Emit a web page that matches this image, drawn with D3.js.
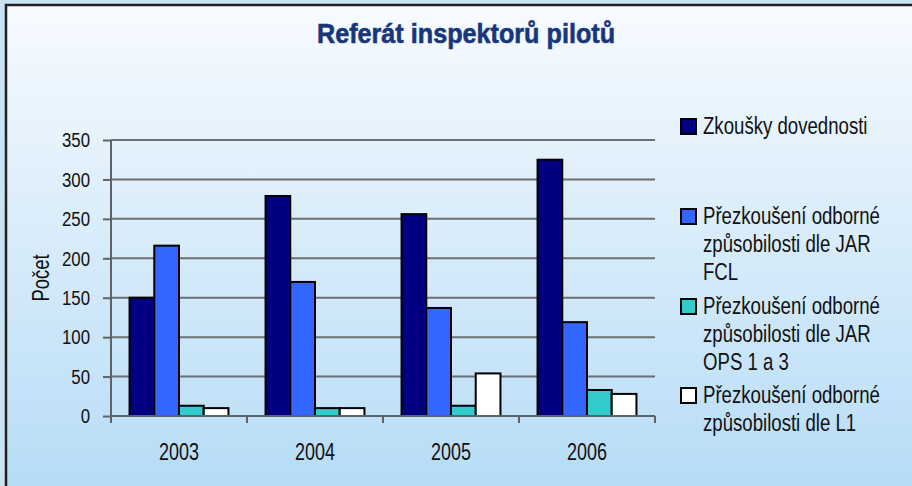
<!DOCTYPE html>
<html>
<head>
<meta charset="utf-8">
<script src="https://cdn.jsdelivr.net/npm/d3@7"></script>
<style>
  html, body { margin: 0; padding: 0; background: #c6e2f4; }
  svg { display: block; }
  text { font-family: "Liberation Sans", Arial, sans-serif; }
</style>
</head>
<body>
<svg id="chart" width="912" height="486"></svg>
<script>
const categories = ["2003", "2004", "2005", "2006"];
const seriesNames = [
  "Zkoušky dovednosti",
  "Přezkoušení odborné způsobilosti dle JAR FCL",
  "Přezkoušení odborné způsobilosti dle JAR OPS 1 a 3",
  "Přezkoušení odborné způsobilosti dle L1"
];
const legendLines = [
  ["Zkoušky dovednosti"],
  ["Přezkoušení odborné", "způsobilosti dle JAR", "FCL"],
  ["Přezkoušení odborné", "způsobilosti dle JAR", "OPS 1 a 3"],
  ["Přezkoušení odborné", "způsobilosti dle L1"]
];
const zkousky = [150, 279, 256, 325];
const jarFcl = [216, 170, 137, 119];
const jarOps = [13, 10, 13, 33];
const l1 = [10, 10, 54, 28];
const seriesValues = [zkousky, jarFcl, jarOps, l1];
const seriesColors = ["#000080", "#3366ff", "#33cccc", "#ffffff"];
const yTicks = [0, 50, 100, 150, 200, 250, 300, 350];
const titleText = "Referát inspektorů pilotů";
const yTitle = "Počet";

const svg = d3.select("#chart");

// background gradient
const defs = svg.append("defs");
const grad = defs.append("linearGradient").attr("id", "bg")
  .attr("x1", 0).attr("y1", 0).attr("x2", 0).attr("y2", 1);
grad.append("stop").attr("offset", "0%").attr("stop-color", "#f7fbff");
grad.append("stop").attr("offset", "50%").attr("stop-color", "#d6ebfa");
grad.append("stop").attr("offset", "100%").attr("stop-color", "#b4dbf6");

svg.append("rect").attr("x", 0).attr("y", 0).attr("width", 912).attr("height", 486).attr("fill", "#c9e3f3");
svg.append("rect").attr("x", 6).attr("y", 5).attr("width", 920).attr("height", 500)
  .attr("fill", "url(#bg)").attr("stroke", "#231f20").attr("stroke-width", 2.5);

// scales
const plotLeft = 111, plotRight = 655, plotTop = 140, plotBottom = 416;
const x0 = d3.scaleBand().domain(categories).range([plotLeft, plotRight]).padding(0);
const x1 = d3.scaleBand().domain(d3.range(seriesNames.length))
  .range([0, x0.bandwidth()]).paddingInner(0).paddingOuter(0.75);
const y = d3.scaleLinear().domain([0, 350]).range([plotBottom, plotTop]);

// gridlines
svg.append("g").selectAll("line").data(yTicks.filter(d => d > 0)).join("line")
  .attr("x1", plotLeft).attr("x2", plotRight)
  .attr("y1", d => y(d)).attr("y2", d => y(d))
  .attr("stroke", "#6b6f73").attr("stroke-width", 2);

// bars
const groups = svg.append("g").selectAll("g").data(categories).join("g")
  .attr("transform", d => `translate(${x0(d)},0)`);
groups.selectAll("rect")
  .data((c, ci) => seriesValues.map((vals, si) => ({ si, v: vals[ci] })))
  .join("rect")
  .attr("x", d => x1(d.si))
  .attr("y", d => y(d.v))
  .attr("width", x1.bandwidth())
  .attr("height", d => y(0) - y(d.v))
  .attr("fill", d => seriesColors[d.si])
  .attr("stroke", "#000").attr("stroke-width", 2);

// y axis
const fy = 0.8;
const yAxis = d3.axisLeft(y).tickValues(yTicks).tickSize(8).tickPadding(13).tickSizeOuter(0);
const gy = svg.append("g").attr("transform", `translate(${plotLeft},0)`).call(yAxis);
gy.select(".domain").attr("stroke", "#5f6368").attr("stroke-width", 2)
  .attr("d", `M0,${plotTop}V${plotBottom + 7}`);
gy.selectAll(".tick line").attr("stroke", "#5f6368").attr("stroke-width", 2);
gy.selectAll(".tick text").attr("font-size", 21).attr("fill", "#111")
  .attr("font-family", "'Liberation Sans', Arial, sans-serif")
  .attr("x", -21 / fy).attr("transform", `scale(${fy},1)`);

// x axis
const fx = 0.765;
const xAxis = d3.axisBottom(x0).tickSize(0).tickPadding(27).tickSizeOuter(0);
const gx = svg.append("g").attr("transform", `translate(0,${plotBottom})`).call(xAxis);
gx.select(".domain").attr("stroke", "#5f6368").attr("stroke-width", 2)
  .attr("d", `M${plotLeft},0H${plotRight}`);
gx.selectAll(".tick text").attr("font-size", 23.5).attr("fill", "#111")
  .attr("font-family", "'Liberation Sans', Arial, sans-serif")
  .attr("transform", `scale(${fx},1)`);
const edges = categories.map(c => x0(c)).concat([x0(categories[categories.length - 1]) + x0.bandwidth()]);
gx.append("g").selectAll("line").data(edges).join("line")
  .attr("x1", d => d).attr("x2", d => d).attr("y1", 0).attr("y2", 7)
  .attr("stroke", "#5f6368").attr("stroke-width", 2);

// y title
svg.append("text").attr("transform", "translate(49,278) rotate(-90) scale(0.8,1)")
  .attr("text-anchor", "middle").attr("font-size", 23).attr("fill", "#111").text(yTitle);

// title
svg.append("text").attr("transform", "translate(466,43) scale(0.9,1)").attr("text-anchor", "middle")
  .attr("font-size", 28).attr("font-weight", "bold").attr("fill", "#17377a")
  .attr("stroke", "#17377a").attr("stroke-width", 0.6)
  .text(titleText);

// legend
const fl = 0.776;
const legendBaselines = [134, 224, 314, 403];
const leg = svg.append("g").selectAll("g").data(seriesNames).join("g")
  .attr("transform", (d, i) => `translate(681,${legendBaselines[i]})`);
leg.append("rect").attr("x", 0).attr("y", -15).attr("width", 15).attr("height", 15)
  .attr("fill", (d, i) => seriesColors[i]).attr("stroke", "#000").attr("stroke-width", 2);
leg.each(function(d, i) {
  d3.select(this).selectAll("text").data(legendLines[i]).join("text")
    .attr("transform", (t, j) => `translate(22,${j * 28}) scale(${fl},1)`)
    .attr("font-size", 24).attr("fill", "#111").text(t => t);
});
</script>
</body>
</html>
